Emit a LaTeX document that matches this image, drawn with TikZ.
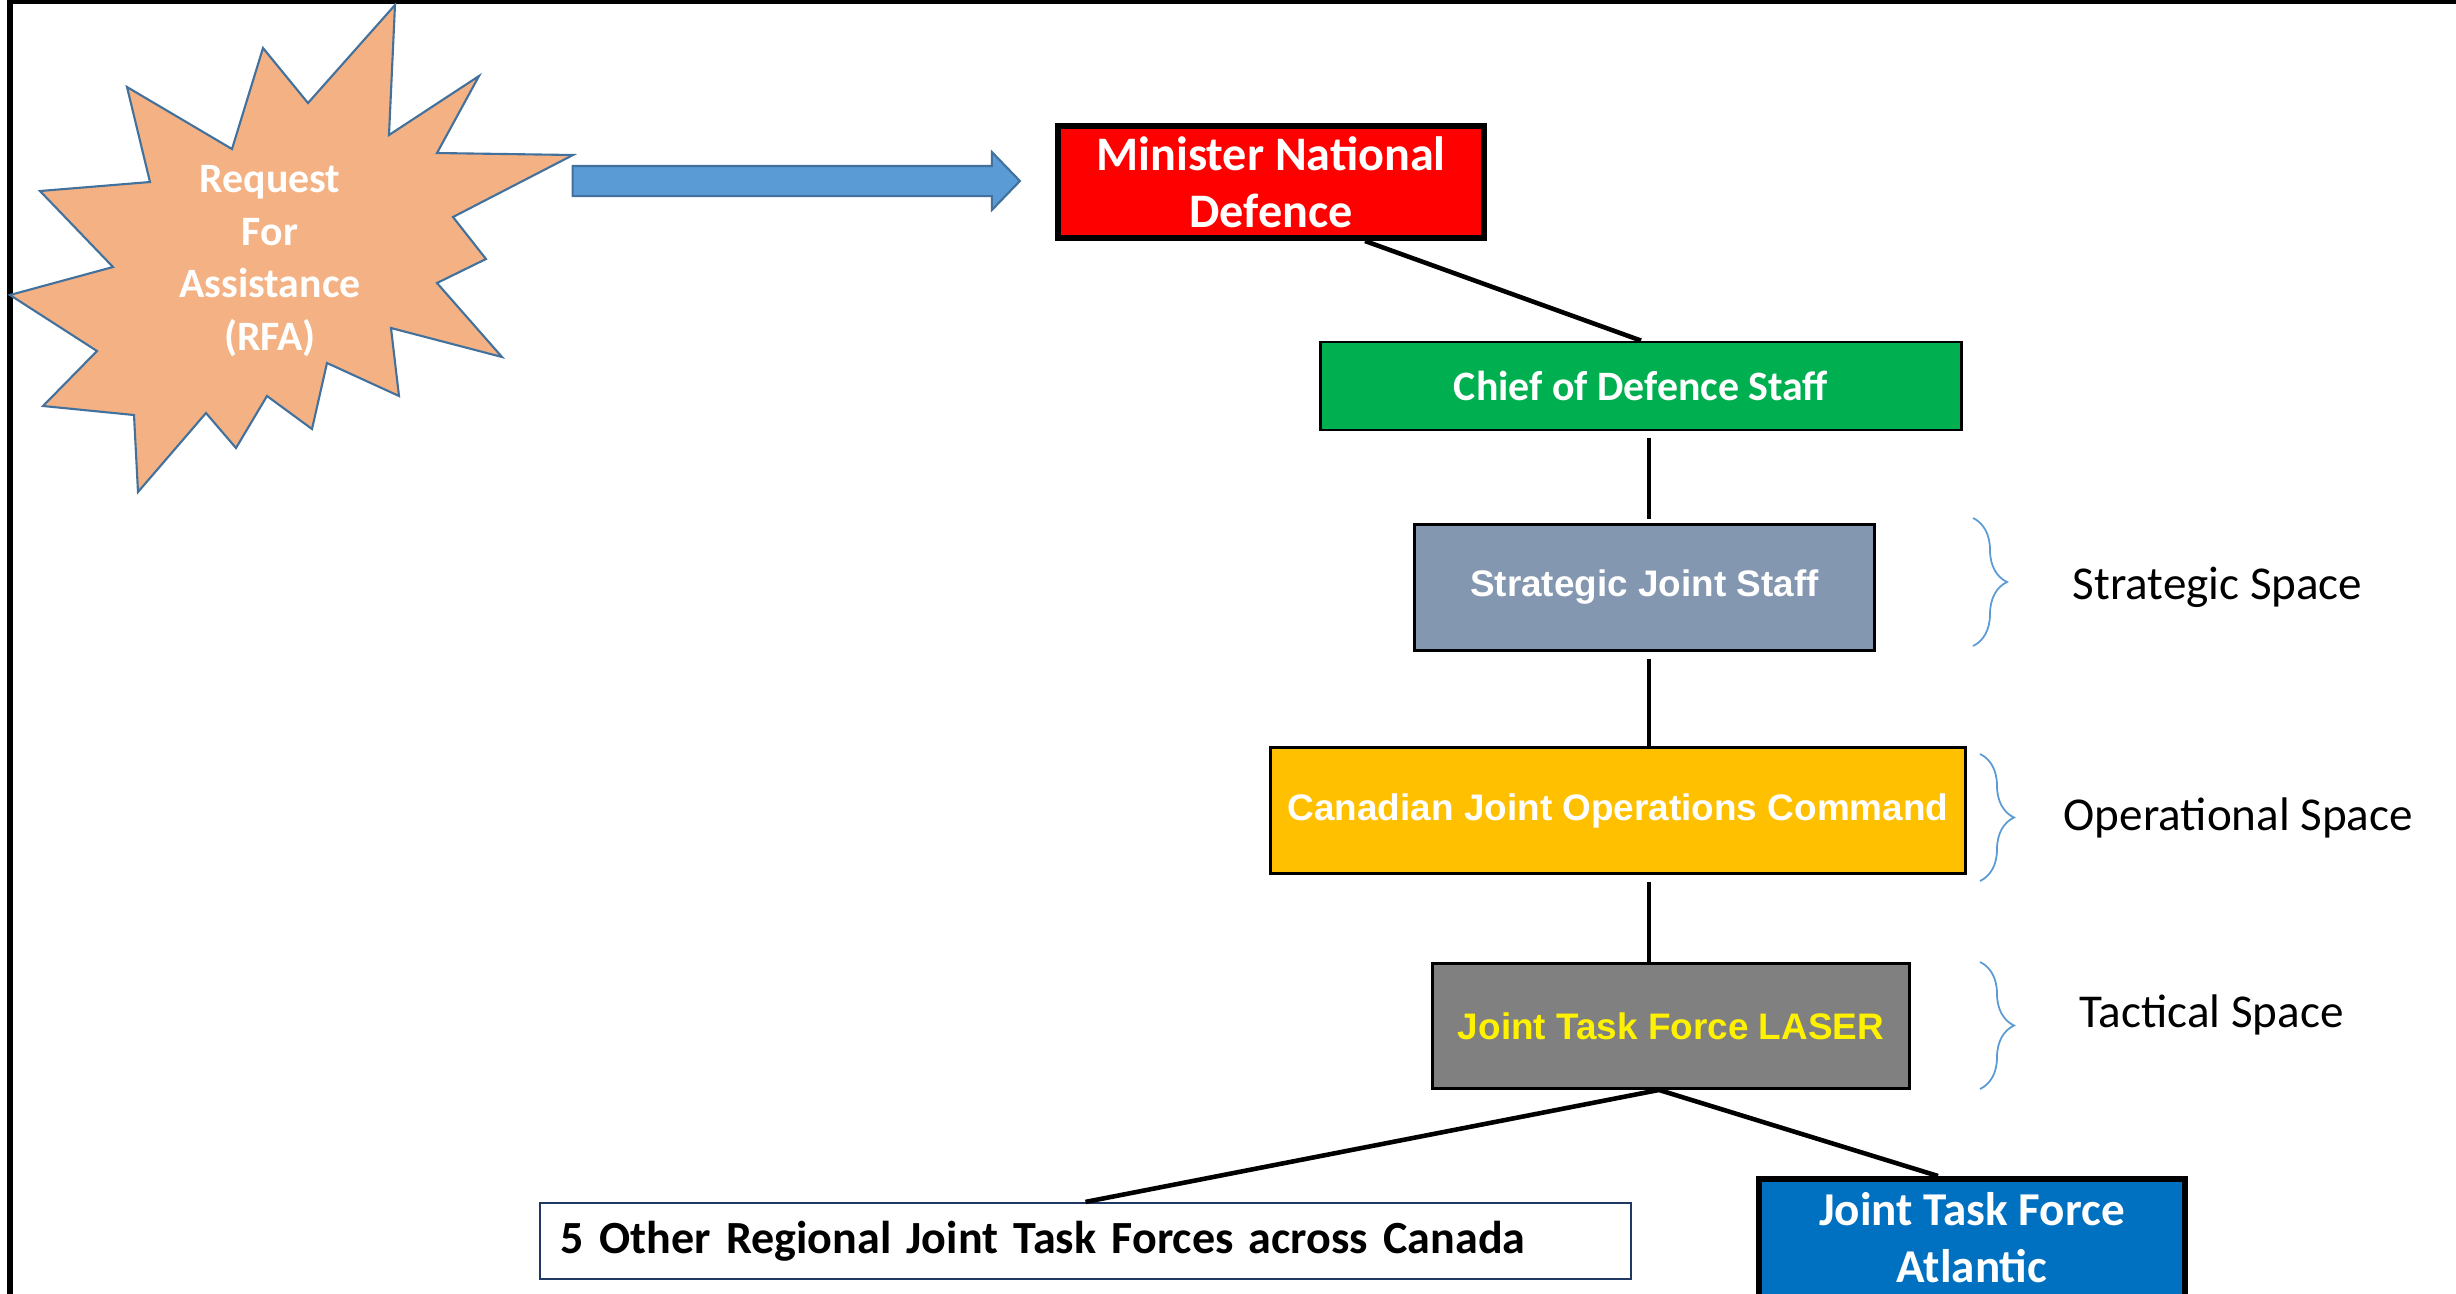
\documentclass[tikz,border=0pt]{standalone}
\usepackage{fontspec}
\setmainfont{Carlito}
\newfontfamily\arialfont{Liberation Sans}
\usepackage{xcolor}
\usepackage{tikz}
\usetikzlibrary{shapes,shapes.arrows,decorations.pathreplacing,positioning}

\definecolor{burstfill}{HTML}{F4B183}
\definecolor{burstline}{HTML}{41719C}
\definecolor{arrowfill}{HTML}{5B9BD5}
\definecolor{mndred}{HTML}{FF0000}
\definecolor{cdsgreen}{HTML}{00B050}
\definecolor{sjsgrey}{HTML}{8497B0}
\definecolor{cjocgold}{HTML}{FFC000}
\definecolor{jtfgrey}{HTML}{808080}
\definecolor{jtfblue}{HTML}{0070C0}
\definecolor{otherline}{HTML}{203864}
\definecolor{bracecol}{HTML}{5B9BD5}

\begin{document}
\begin{tikzpicture}[x=0.01cm, y=-0.01cm,
            link/.style = {line width=1.3pt},
            unit/.style = {draw, line width=0.8pt, inner sep=0pt,
                align=center, text=white},
            heavy/.style = {draw, line width=1.7pt, inner sep=0pt,
                align=center, text=white},
            arialbf/.style = {font=\fontsize{10.5pt}{12.6pt}\selectfont\arialfont\bfseries},
            space/.style = {decorate, decoration={brace, amplitude=0.34cm},
                draw=bracecol, line width=0.5pt},
            spacelabel/.style = {anchor=west, inner sep=0pt,
                font=\fontsize{13.4pt}{16pt}\selectfont}]

        \useasboundingbox (0,0) rectangle (2456,1293);

        % Frame
        \draw[line width=1.7pt] (10,1300) -- (10,0);
        \draw[line width=1pt] (7,1.75) -- (2460,1.75);

        % Request for assistance
        \draw[fill=burstfill, draw=burstline, line width=0.6pt]
            (395,5) -- (308,103) -- (263,48) -- (232,149) -- (127,87) --
            (150,182) -- (40,191) -- (113,267) -- (10,295) -- (97,351) --
            (43,406) -- (134,415) -- (138,492) -- (206,413) -- (236,448) --
            (267,396) -- (312,429) -- (327,363) -- (399,396) -- (391,328) --
            (502,357) -- (437,283) -- (486,259) -- (453,217) -- (573,155) --
            (437,153) -- (479,76) -- (389,135) -- cycle;
        \node[align=center, text=white, inner sep=0pt,
            font=\fontsize{11.9pt}{15pt}\selectfont\bfseries]
            (rfa) at (270,261) {Request\\For\\Assistance\\(RFA)};

        \node[single arrow, fill=arrowfill, draw=burstline, line width=0.6pt,
            minimum height=4.47cm, inner sep=0.14cm,
            single arrow head extend=0.14cm, single arrow tip angle=92,
            single arrow head indent=0pt] (rfaarrow) at (789,181) {};

        % Chain of command
        \node[heavy, fill=mndred, minimum width=4.26cm, minimum height=1.12cm,
            font=\fontsize{13.7pt}{16.1pt}\selectfont\bfseries]
            (mnd) at (1271,182) {Minister National\\Defence};

        \node[unit, fill=cdsgreen, minimum width=6.4cm, minimum height=0.88cm,
            font=\fontsize{11.9pt}{14pt}\selectfont\bfseries]
            (cds) at (1641,386) {Chief of Defence Staff};

        \node[unit, arialbf, fill=sjsgrey, minimum width=4.6cm, minimum height=1.26cm]
            (sjs) at (1644.5,587.5) {Strategic Joint Staff};

        \node[unit, arialbf, fill=cjocgold, minimum width=6.95cm, minimum height=1.26cm]
            (cjoc) at (1618,810.5) {Canadian Joint Operations Command};

        \node[unit, arialbf, fill=jtfgrey, text=yellow, minimum width=4.77cm,
            minimum height=1.25cm] (laser) at (1671,1026) {Joint Task Force LASER};

        \node[draw=otherline, line width=0.6pt, fill=white, inner xsep=0.21cm,
            inner ysep=0pt, text width=10.49cm, align=left, minimum height=0.76cm,
            font=\fontsize{13.1pt}{16pt}\selectfont\bfseries]
            (other) at (1085.5,1241) {5 Other Regional Joint Task Forces across Canada};

        \node[heavy, fill=jtfblue, minimum width=4.26cm, minimum height=1.18cm,
            font=\fontsize{13.4pt}{16.2pt}\selectfont\bfseries]
            (atl) at (1972,1238) {Joint Task Force\\Atlantic};

        % Links
        \coordinate (spine) at (1649,0);
        \draw[link] ([xshift=0.94cm]mnd.south) -- (cds.north);
        \draw[link, shorten <=0.07cm, shorten >=0.04cm] (cds.south -| spine) -- (sjs.north -| spine);
        \draw[link, shorten <=0.07cm] (sjs.south -| spine) -- (cjoc.north -| spine);
        \draw[link, shorten <=0.07cm] (cjoc.south -| spine) -- (laser.north -| spine);
        \draw[link] ([xshift=-0.12cm]laser.south) -- (other.north);
        \draw[link] ([xshift=-0.12cm]laser.south) -- ([xshift=-0.34cm]atl.north);

        % Spaces
        \draw[space] (1973,518) -- (1973,646);
        \node[spacelabel] (strategic) at (2072,587) {Strategic Space};

        \draw[space] (1980,754) -- (1980,881);
        \node[spacelabel] (operational) at (2063,818) {Operational Space};

        \draw[space] (1980,962) -- (1980,1089);
        \node[spacelabel] (tactical) at (2079,1015) {Tactical Space};

\end{tikzpicture}
\end{document}
